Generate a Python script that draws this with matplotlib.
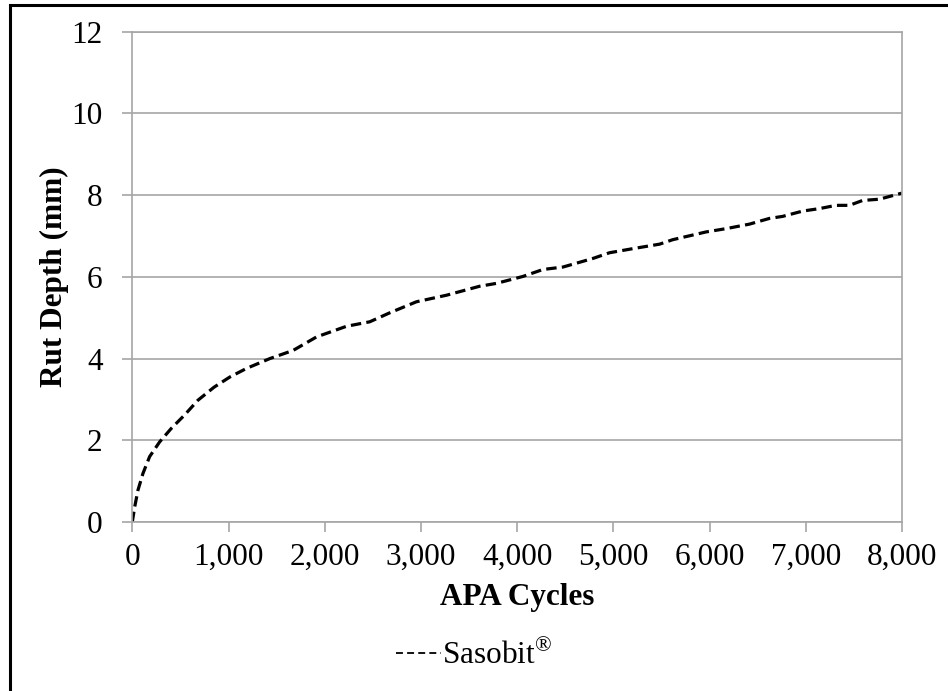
import matplotlib
matplotlib.use("Agg")
import matplotlib.pyplot as plt
from matplotlib.lines import Line2D
from matplotlib.patches import Rectangle
from matplotlib.ticker import FuncFormatter, MultipleLocator

plt.rcParams["font.family"] = ["Liberation Serif", "DejaVu Serif"]
plt.rcParams["mathtext.fontset"] = "custom"
plt.rcParams["mathtext.rm"] = "Liberation Serif"
plt.rcParams["lines.scale_dashes"] = False

# APA rut test: cycles vs. rut depth
cycles = [0, 25, 59, 111, 180, 284, 405, 544, 682, 850, 1015, 1188, 1430,
          1672, 1915, 2226, 2468, 2676, 2953, 3265, 3610, 3784, 4060, 4268,
          4476, 4787, 4960, 5202, 5480, 5618, 5965, 6172, 6414, 6622, 6760,
          6968, 7141, 7314, 7453, 7591, 7764, 8000]
rut_depth = [0.0, 0.37, 0.78, 1.19, 1.6, 1.96, 2.29, 2.62, 2.98, 3.3, 3.55,
             3.76, 4.0, 4.2, 4.53, 4.79, 4.9, 5.12, 5.39, 5.55, 5.77, 5.84,
             6.01, 6.18, 6.24, 6.45, 6.59, 6.69, 6.80, 6.91, 7.10, 7.18, 7.29,
             7.43, 7.48, 7.61, 7.67, 7.75, 7.75, 7.87, 7.90, 8.05]
series_label = "Sasobit$^{\u00ae}$"

W, H = 948, 691
fig = plt.figure(figsize=(W / 100, H / 100), dpi=100)
ax = fig.add_axes([132.3 / W, 1 - 522 / H, (902 - 132.3) / W, (522 - 31.7) / H])

grid_c = "#a6a6a6"
ax.plot(cycles, rut_depth, color="black", lw=2.3, dashes=(7.5, 3.8),
        dash_capstyle="butt")

ax.set_xlim(0, 8000)
ax.set_ylim(0, 12)
ax.xaxis.set_major_locator(MultipleLocator(1000))
ax.yaxis.set_major_locator(MultipleLocator(2))
ax.xaxis.set_major_formatter(FuncFormatter(lambda v, p: f"{int(v):,}"))
ax.yaxis.grid(True, color=grid_c, lw=1.2)
ax.set_axisbelow(True)
for s in ax.spines.values():
    s.set_color(grid_c)
    s.set_linewidth(1.2)
ax.tick_params(axis="both", direction="out", length=7.3, width=1.2,
               color=grid_c, labelsize=22.5, labelcolor="black")
ax.tick_params(axis="x", pad=8)
ax.tick_params(axis="y", pad=14)

ax.set_xlabel("APA Cycles", fontsize=22.5, fontweight="bold", labelpad=7.5)
ax.set_ylabel("Rut Depth (mm)", fontsize=22.5, fontweight="bold", labelpad=2)

handle = Line2D([0], [0], color="black", lw=1.3, dashes=(5, 3))
fig.legend([handle], [series_label], loc="center",
           bbox_to_anchor=(474 / W, 1 - 655 / H), frameon=False,
           fontsize=22.5, handlelength=1.45, handletextpad=0.05)

# outer chart frame
fig.add_artist(Rectangle((9.5 / W, -0.05), 1.2, (1 - 5.5 / H) + 0.05,
                         transform=fig.transFigure, fill=False,
                         edgecolor="black", lw=2.2))

fig.savefig("out.png", dpi=100)
